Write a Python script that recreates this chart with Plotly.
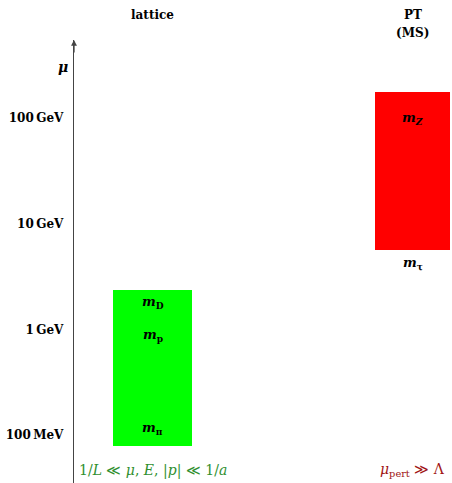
import math
import plotly.graph_objects as go

# Energy windows (GeV) covered by each approach
columns = ["lattice", "PT"]
column_x = [1.0, 4.3]
column_width = [1.0, 0.96]
box_low = [0.078, 5.6]
box_high = [2.35, 175.0]
box_colors = ["#00ff00", "#ff0000"]
header_lines = [["<b>lattice</b>"], ["<b>PT</b>", "<b>(MS)</b>"]]

# Scale ticks on the mu axis
scale_ticks = [0.1, 1, 10, 100]
scale_labels = ["100\u2009MeV", "1\u2009GeV", "10\u2009GeV", "100\u2009GeV"]

# Mass labels placed along the scale
mass_text = ["<b><i>m</i></b><sub><b>D</b></sub>", "<b><i>m</i></b><sub><b>p</b></sub>",
             "<b><i>m</i></b><sub><b>\u03c0</b></sub>", "<b><i>m</i></b><sub><b><i>Z</i></b></sub>",
             "<b><i>m</i></b><sub><b>\u03c4</b></sub>"]
mass_column = [0, 0, 0, 1, 1]
mass_y = [1.8, 0.88, 0.115, 100.0, 4.2]

# Validity conditions written under each column
conditions = ["1/<i>L</i> \u226a <i>\u03bc</i>, <i>E</i>, |<i>p</i>| \u226a 1/<i>a</i>",
              "<i>\u03bc</i><sub>pert</sub> \u226b \u039b"]
condition_colors = ["#2f8f2f", "#a01414"]

FONT = "DejaVu Serif"

fig = go.Figure()
for i, name in enumerate(columns):
    fig.add_trace(go.Bar(
        x=[column_x[i]], y=[box_high[i] - box_low[i]], base=[box_low[i]],
        width=[column_width[i]], marker=dict(color=box_colors[i], line=dict(width=0)),
        name=name, showlegend=False, hoverinfo="skip",
    ))

for txt, col, yv in zip(mass_text, mass_column, mass_y):
    fig.add_annotation(x=column_x[col], y=math.log10(yv), text=txt, showarrow=False,
                       xanchor="center", yanchor="middle",
                       font=dict(family=FONT, size=13, color="black"))

# column headers above the plot area
for i, lines in enumerate(header_lines):
    for k, line in enumerate(lines):
        fig.add_annotation(x=column_x[i], y=1.0564 - 0.041 * k, yref="paper", text=line,
                           showarrow=False, xanchor="center", yanchor="middle",
                           font=dict(family=FONT, size=12, color="black"))

for i, c in enumerate(conditions):
    fig.add_annotation(x=column_x[i], y=0.029, yref="paper", text=c, showarrow=False,
                       xanchor="center", yanchor="middle",
                       font=dict(family=FONT, size=14, color=condition_colors[i]))

# axis label and arrow head
fig.add_annotation(x=-0.029, y=0.939, xref="paper", yref="paper", text="<b><i>\u03bc</i></b>",
                   showarrow=False, xanchor="center", yanchor="middle",
                   font=dict(family=FONT, size=14, color="black"))
fig.add_annotation(x=0, y=1.0, xref="paper", yref="paper", ax=0, ay=14, text="",
                   showarrow=True, arrowhead=2, arrowsize=0.9, arrowwidth=1.3, arrowcolor="#444")

fig.update_layout(
    width=452, height=483, margin=dict(l=74, r=0, t=40, b=0),
    plot_bgcolor="white", paper_bgcolor="white", bargap=0,
    xaxis=dict(range=[0, 4.8], visible=False),
    yaxis=dict(type="log", range=[-1.4545, 2.739], tickvals=scale_ticks, ticktext=scale_labels,
               showgrid=False, zeroline=False, showline=True, linecolor="#444", linewidth=1.4,
               ticks="", ticklabelstandoff=7,
               tickfont=dict(family=FONT, size=12, color="black", weight="bold")),
)

fig.write_html("out.html")
